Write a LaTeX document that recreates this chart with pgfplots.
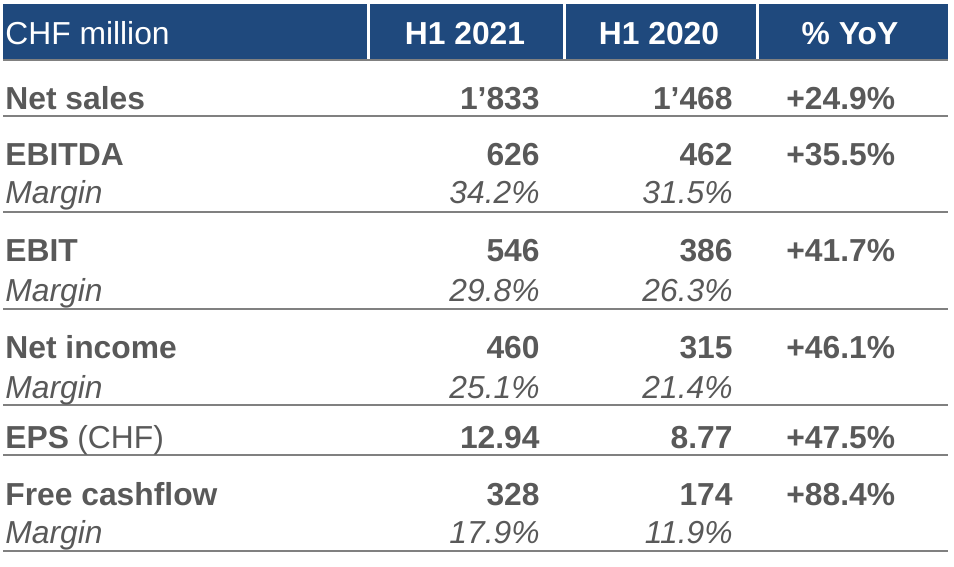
\documentclass[border=0pt]{standalone}
\usepackage{pgfplots}
\pgfplotsset{compat=1.18}
\usepackage{fontspec}
\setmainfont{Liberation Sans}
\definecolor{hdrblue}{RGB}{31,73,125}
\definecolor{txtgray}{RGB}{89,89,89}
\definecolor{rulegray}{RGB}{128,128,128}
\newcommand\tfont{\fontsize{15.9pt}{18pt}\selectfont}
\begin{document}
\begin{tikzpicture}
\begin{axis}[
  scale only axis, width=477pt, height=283.5pt,
  xmin=0, xmax=954, ymin=0, ymax=567, y dir=reverse,
  hide axis, clip=false,
  every axis plot/.append style={draw=none, mark=none, nodes near coords, point meta=explicit symbolic},
]
% frame for bounding box
\path (axis cs:0,0) rectangle (axis cs:954,567);
% header bar
\fill[hdrblue] (axis cs:3,4) rectangle (axis cs:948,59);
\fill[white] (axis cs:366.5,3) rectangle (axis cs:369.5,60);
\fill[white] (axis cs:562.5,3) rectangle (axis cs:565.5,60);
\fill[white] (axis cs:755.5,3) rectangle (axis cs:758.5,60);
% rules
\draw[rulegray, line width=1pt] (axis cs:3,60) -- (axis cs:948,60);
\draw[rulegray, line width=1pt] (axis cs:3,116) -- (axis cs:948,116);
\draw[rulegray, line width=1pt] (axis cs:3,212) -- (axis cs:948,212);
\draw[rulegray, line width=1pt] (axis cs:3,309) -- (axis cs:948,309);
\draw[rulegray, line width=1pt] (axis cs:3,405) -- (axis cs:948,405);
\draw[rulegray, line width=1pt] (axis cs:3,455) -- (axis cs:948,455);
\draw[rulegray, line width=1pt] (axis cs:3,551) -- (axis cs:948,551);
% header texts
\addplot[every node near coord/.append style={anchor=base west, inner sep=0pt, text=white, font=\tfont}]
  table[meta=label, row sep=\\, col sep=comma] {x,y,label\\ 5,45,CHF million\\};
\addplot[every node near coord/.append style={anchor=base, inner sep=0pt, text=white, font=\tfont\bfseries}]
  table[meta=label, row sep=\\, col sep=comma] {x,y,label\\ 465,45,H1 2021\\ 659,45,H1 2020\\ 850,45,\% YoY\\};
% row labels
\addplot[every node near coord/.append style={anchor=base west, inner sep=0pt, text=txtgray, font=\tfont\bfseries}]
  table[meta=label, row sep=\\, col sep=comma] {x,y,label\\ 5,110,Net sales\\ 5,166,EBITDA\\ 5,262,EBIT\\ 5,358,Net income\\ 5,448,EPS\\ 5,505,Free cashflow\\};
\addplot[every node near coord/.append style={anchor=base west, inner sep=0pt, text=txtgray, font=\tfont\itshape}]
  table[meta=label, row sep=\\, col sep=comma] {x,y,label\\ 5,204,Margin\\ 5,301,Margin\\ 5,398,Margin\\ 5,543,Margin\\};
\addplot[every node near coord/.append style={anchor=base west, inner sep=0pt, text=txtgray, font=\tfont}]
  table[meta=label, row sep=\\, col sep=comma] {x,y,label\\ 77,448,(CHF)\\};
% H1 2021
\addplot[every node near coord/.append style={anchor=base east, inner sep=0pt, text=txtgray, font=\tfont\bfseries}]
  table[meta=label, row sep=\\, col sep=comma] {x,y,label\\ 540,110,1'833\\ 540,166,626\\ 540,262,546\\ 540,358,460\\ 540,448,12.94\\ 540,505,328\\};
\addplot[every node near coord/.append style={anchor=base east, inner sep=0pt, text=txtgray, font=\tfont\itshape}]
  table[meta=label, row sep=\\, col sep=comma] {x,y,label\\ 540,204,34.2\%\\ 540,301,29.8\%\\ 540,398,25.1\%\\ 540,543,17.9\%\\};
% H1 2020
\addplot[every node near coord/.append style={anchor=base east, inner sep=0pt, text=txtgray, font=\tfont\bfseries}]
  table[meta=label, row sep=\\, col sep=comma] {x,y,label\\ 733,110,1'468\\ 733,166,462\\ 733,262,386\\ 733,358,315\\ 733,448,8.77\\ 733,505,174\\};
\addplot[every node near coord/.append style={anchor=base east, inner sep=0pt, text=txtgray, font=\tfont\itshape}]
  table[meta=label, row sep=\\, col sep=comma] {x,y,label\\ 733,204,31.5\%\\ 733,301,26.3\%\\ 733,398,21.4\%\\ 733,543,11.9\%\\};
% YoY
\addplot[every node near coord/.append style={anchor=base west, inner sep=0pt, text=txtgray, font=\tfont\bfseries}]
  table[meta=label, row sep=\\, col sep=comma] {x,y,label\\ 786,110,+24.9\%\\ 786,166,+35.5\%\\ 786,262,+41.7\%\\ 786,358,+46.1\%\\ 786,448,+47.5\%\\ 786,505,+88.4\%\\};
\end{axis}
\end{tikzpicture}
\end{document}
